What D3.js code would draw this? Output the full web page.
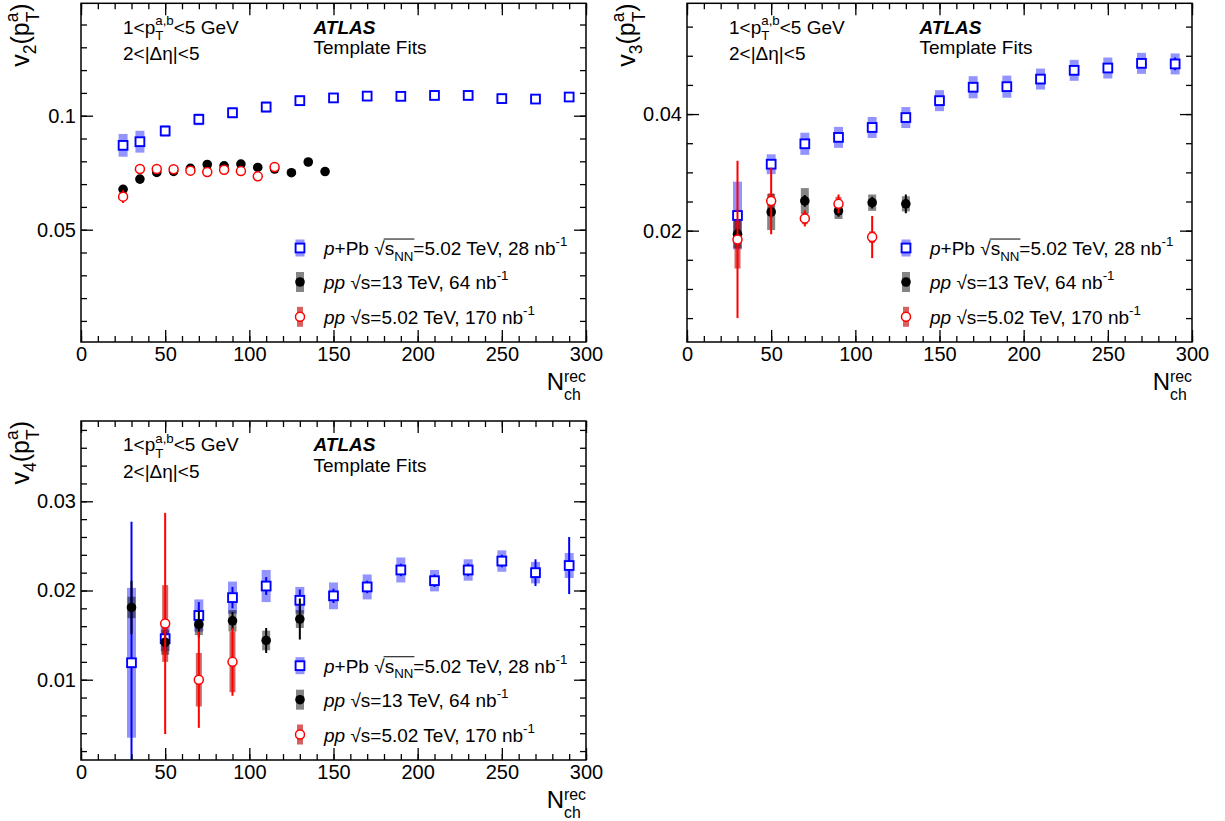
<!DOCTYPE html>
<html><head><meta charset="utf-8">
<script src="https://cdn.jsdelivr.net/npm/d3@7"></script>
<style>
body{margin:0;background:#fff}
text{font-family:"Liberation Sans",Arial,Helvetica,sans-serif;white-space:pre}
</style>
</head><body>
<svg id="c" width="1225" height="821" xmlns="http://www.w3.org/2000/svg"></svg>
<script>
// ---------------- DATA ----------------
const xTicksMajor = [0, 50, 100, 150, 200, 250, 300];
const xTickLabels = ['0', '50', '100', '150', '200', '250', '300'];

const v2Ticks = [0.05, 0.1];          const v2TickLabels = ['0.05', '0.1'];
const v3Ticks = [0.02, 0.04];         const v3TickLabels = ['0.02', '0.04'];
const v4Ticks = [0.01, 0.02, 0.03];   const v4TickLabels = ['0.01', '0.02', '0.03'];

// v2 panel
const blueX2 = [25, 35, 50, 70, 90, 110, 130, 150, 170, 190, 210, 230, 250, 270, 290];
const blueV2 = [0.0870, 0.0886, 0.0933, 0.0984, 0.1013, 0.1038, 0.1066, 0.1078, 0.1086, 0.1085, 0.1089, 0.1089, 0.1075, 0.1073, 0.1082];
const blueStat2 = [0.0006, 0.0006, 0.0005, 0.0005, 0.0005, 0.0005, 0.0005, 0.0005, 0.0005, 0.0005, 0.0005, 0.0005, 0.0005, 0.0005, 0.0005];
const blueSys2 = [0.0050, 0.0048, 0.0025, 0.0026, 0.0025, 0.0025, 0.0024, 0.0022, 0.0022, 0.0022, 0.0022, 0.0022, 0.0022, 0.0022, 0.0022];

const blackX2 = [25, 35, 45, 55, 65, 75, 85, 95, 105, 115, 125, 135, 145];
const blackV2 = [0.0677, 0.0722, 0.0751, 0.0756, 0.0769, 0.0786, 0.0780, 0.0788, 0.0773, 0.0766, 0.0750, 0.0797, 0.0755];
const blackStat2 = [0.0010, 0.0008, 0.0006, 0.0006, 0.0006, 0.0006, 0.0006, 0.0006, 0.0006, 0.0006, 0.0007, 0.0008, 0.0009];
const blackSys2 = [0.0008, 0.0008, 0.0008, 0.0008, 0.0008, 0.0008, 0.0008, 0.0008, 0.0008, 0.0008, 0.0008, 0.0008, 0.0008];

const redX2 = [25, 35, 45, 55, 65, 75, 85, 95, 105, 115];
const redV2 = [0.0645, 0.0766, 0.0766, 0.0765, 0.0759, 0.0753, 0.0763, 0.0757, 0.0734, 0.0775];
const redStat2 = [0.0028, 0.0014, 0.0008, 0.0008, 0.0008, 0.0008, 0.0008, 0.0008, 0.0009, 0.0010];
const redSys2 = [0.0010, 0.0012, 0.0008, 0.0008, 0.0008, 0.0008, 0.0008, 0.0008, 0.0008, 0.0008];

// v3 panel
const blueX3 = [30, 50, 70, 90, 110, 130, 150, 170, 190, 210, 230, 250, 270, 290];
const blueV3 = [0.0226, 0.0314, 0.0349, 0.0360, 0.0377, 0.0394, 0.0423, 0.0446, 0.0447, 0.0460, 0.0475, 0.0479, 0.0487, 0.0486];
const blueStat3 = [0.0010, 0.0008, 0.0005, 0.0005, 0.0005, 0.0005, 0.0005, 0.0005, 0.0005, 0.0005, 0.0005, 0.0005, 0.0006, 0.0011];
const blueSys3 = [0.0058, 0.0017, 0.0019, 0.0018, 0.0018, 0.0018, 0.0018, 0.0019, 0.0019, 0.0018, 0.0018, 0.0018, 0.0018, 0.0018];

const blackX3 = [30, 50, 70, 90, 110, 130];
const blackV3 = [0.0194, 0.0232, 0.0251, 0.0234, 0.0248, 0.0246];
const blackStat3 = [0.0010, 0.0010, 0.0010, 0.0010, 0.0010, 0.0016];
const blackSys3 = [0.0024, 0.0031, 0.0022, 0.0014, 0.0014, 0.0013];

const redX3 = [30, 50, 70, 90, 110];
const redV3 = [0.0185, 0.0251, 0.0221, 0.0246, 0.0189];
const redStat3 = [0.0135, 0.0057, 0.0014, 0.0016, 0.0036];
const redSys3 = [0.0050, 0.0013, 0.0010, 0.0012, 0.0010];

// v4 panel
const blueX4 = [30, 50, 70, 90, 110, 130, 150, 170, 190, 210, 230, 250, 270, 290];
const blueV4 = [0.0119, 0.0146, 0.0172, 0.0192, 0.0205, 0.0189, 0.0194, 0.0204, 0.0223, 0.0211, 0.0223, 0.0233, 0.0220, 0.0228];
const blueStat4 = [0.0158, 0.0010, 0.0015, 0.0012, 0.0010, 0.0012, 0.0008, 0.0007, 0.0007, 0.0007, 0.0007, 0.0007, 0.0015, 0.0032];
const blueSys4 = [0.0084, 0.0014, 0.0018, 0.0018, 0.0018, 0.0015, 0.0015, 0.0014, 0.0014, 0.0012, 0.0012, 0.0012, 0.0012, 0.0014];

const blackX4 = [30, 50, 70, 90, 110, 130];
const blackV4 = [0.0181, 0.0142, 0.0162, 0.0166, 0.0144, 0.0168];
const blackStat4 = [0.0030, 0.0010, 0.0015, 0.0010, 0.0014, 0.0023];
const blackSys4 = [0.0012, 0.0014, 0.0012, 0.0012, 0.0011, 0.0010];

const redX4 = [50, 70, 90];
const redV4 = [0.0163, 0.0100, 0.0120];
const redStat4 = [0.0124, 0.0054, 0.0038];
const redSys4 = [0.0043, 0.0030, 0.0034];

// ---------------- STYLE ----------------
const styles = {
  pPb:  {color: '#0000ff', sys: 'rgba(0,0,255,0.42)', sysW: 9, marker: 'square'},
  pp13: {color: '#000000', sys: 'rgba(0,0,0,0.48)',   sysW: 8, marker: 'disc'},
  pp5:  {color: '#ff0000', sys: 'rgba(190,0,0,0.62)', sysW: 6, marker: 'circle'}
};

const legendRows = [
  {kind: 'pPb',  segs: [{t: 'p', i: 1}, {t: '+Pb\u00A0'}, {t: '\u221A'}, {t: 's', ov: 1}, {sub: 'NN', ov: 1, subShift: 0.3}, {t: '=5.02 TeV, 28 nb'}, {sup: '-1'}]},
  {kind: 'pp13', segs: [{t: 'pp', i: 1}, {t: '\u00A0'}, {t: '\u221A'}, {t: 's'}, {t: '=13 TeV, 64 nb'}, {sup: '-1'}]},
  {kind: 'pp5',  segs: [{t: 'pp', i: 1}, {t: '\u00A0'}, {t: '\u221A'}, {t: 's'}, {t: '=5.02 TeV, 170 nb'}, {sup: '-1'}]}
];

const panels = [
  {frame: [81, 586, 3.3, 342], yDomain: [0.00075, 0.1493], yTicks: v2Ticks, yLabels: v2TickLabels, yMinor: 0.01, n: '2',
   series: {pPb: [blueX2, blueV2, blueStat2, blueSys2], pp13: [blackX2, blackV2, blackStat2, blackSys2], pp5: [redX2, redV2, redStat2, redSys2]}},
  {frame: [687, 1192, 3.3, 342], yDomain: [0.0009, 0.059], yTicks: v3Ticks, yLabels: v3TickLabels, yMinor: 0.005, n: '3',
   series: {pPb: [blueX3, blueV3, blueStat3, blueSys3], pp13: [blackX3, blackV3, blackStat3, blackSys3], pp5: [redX3, redV3, redStat3, redSys3]}},
  {frame: [81, 586, 421, 760], yDomain: [0.001, 0.039], yTicks: v4Ticks, yLabels: v4TickLabels, yMinor: 0.002, n: '4',
   series: {pPb: [blueX4, blueV4, blueStat4, blueSys4], pp13: [blackX4, blackV4, blackStat4, blackSys4], pp5: [redX4, redV4, redStat4, redSys4]}}
];

// ---------------- HELPERS ----------------
const svg = d3.select('#c');

// one <text> element per label; sub/superscripts are positioned tspans
function richText(parent, segs, size, opt) {
  const g = parent.append('g');
  const inner = g.append('g');
  const txt = inner.append('text').attr('font-size', size);
  let cx = 0, ovStart = null, ovEnd = null;
  segs.forEach(s => {
    const x0 = cx;
    const small = size * (s.scale || 0.7);
    if (s.t !== undefined) {
      const el = txt.append('tspan').attr('x', cx).attr('y', 0).text(s.t);
      if (s.i) el.attr('font-style', 'italic');
      if (s.b) el.attr('font-weight', 'bold');
      cx += el.node().getComputedTextLength();
    } else {
      let w = 0;
      if (s.sup) {
        const el = txt.append('tspan').attr('x', cx).attr('y', -size * (s.supShift || 0.45)).attr('font-size', small).text(s.sup);
        w = Math.max(w, el.node().getComputedTextLength());
      }
      if (s.sub) {
        const el = txt.append('tspan').attr('x', cx).attr('y', size * (s.subShift || 0.45)).attr('font-size', small).text(s.sub);
        w = Math.max(w, el.node().getComputedTextLength());
      }
      cx += w;
    }
    if (s.ov) { if (ovStart === null) ovStart = x0; ovEnd = cx; }
  });
  if (ovStart !== null) {
    inner.append('line').attr('x1', ovStart - 1).attr('x2', ovEnd + 1)
      .attr('y1', -size * 0.84).attr('y2', -size * 0.84).attr('stroke', '#000').attr('stroke-width', 1);
  }
  const shift = opt.anchor === 'end' ? -cx : (opt.anchor === 'middle' ? -cx / 2 : 0);
  inner.attr('transform', `translate(${shift},0)`);
  g.attr('transform', `translate(${opt.x},${opt.y}) rotate(${opt.rotate || 0})`);
  return cx;
}

function drawMarker(g, kind, cx, cy) {
  const st = styles[kind];
  if (st.marker === 'square') {
    g.append('rect').attr('x', cx - 4.4).attr('y', cy - 4.4).attr('width', 8.8).attr('height', 8.8)
      .attr('fill', '#fff').attr('stroke', st.color).attr('stroke-width', 1.9);
  } else if (st.marker === 'disc') {
    g.append('circle').attr('cx', cx).attr('cy', cy).attr('r', 4.8).attr('fill', st.color);
  } else {
    g.append('circle').attr('cx', cx).attr('cy', cy).attr('r', 4.5)
      .attr('fill', '#fff').attr('stroke', st.color).attr('stroke-width', 1.5);
  }
}

// ---------------- DRAW ----------------
panels.forEach((p, pi) => {
  const [x0, x1, y0, y1] = p.frame;
  const x = d3.scaleLinear().domain([0, 300]).range([x0, x1]);
  const y = d3.scaleLinear().domain(p.yDomain).range([y1, y0]);
  const g = svg.append('g');

  const cid = 'clip' + pi;
  svg.append('defs').append('clipPath').attr('id', cid)
    .append('rect').attr('x', x0).attr('y', y0).attr('width', x1 - x0).attr('height', y1 - y0);

  const data = g.append('g').attr('clip-path', `url(#${cid})`);
  const order = ['pPb', 'pp13', 'pp5'];
  const rows = k => {
    const [X, V, S, Y] = p.series[k];
    return X.map((xv, i) => ({x: xv, v: V[i], stat: S[i], sys: Y[i]}));
  };
  order.forEach(k => {
    const st = styles[k];
    data.append('g').selectAll('rect').data(rows(k)).join('rect')
      .attr('x', d => x(d.x) - st.sysW / 2).attr('width', st.sysW)
      .attr('y', d => y(d.v + d.sys)).attr('height', d => y(d.v - d.sys) - y(d.v + d.sys))
      .attr('fill', st.sys);
  });
  order.forEach(k => {
    const st = styles[k];
    const sg = data.append('g');
    sg.selectAll('line').data(rows(k)).join('line')
      .attr('x1', d => x(d.x)).attr('x2', d => x(d.x))
      .attr('y1', d => y(d.v + d.stat)).attr('y2', d => y(d.v - d.stat))
      .attr('stroke', st.color).attr('stroke-width', 2);
    rows(k).forEach(d => drawMarker(sg, k, x(d.x), y(d.v)));
  });

  // axes
  const MAJ = 12, MIN = 6;
  const ax = g.append('g');
  ax.append('g').attr('transform', `translate(0,${y1})`)
    .call(d3.axisBottom(x).tickValues(xTicksMajor).tickFormat((d, i) => xTickLabels[i]).tickSize(-MAJ).tickPadding(5));
  ax.append('g').attr('transform', `translate(${x0},0)`)
    .call(d3.axisLeft(y).tickValues(p.yTicks).tickFormat((d, i) => p.yLabels[i]).tickSize(-MAJ).tickPadding(5));
  ax.append('g').attr('transform', `translate(0,${y0})`)
    .call(d3.axisTop(x).tickValues(xTicksMajor).tickFormat('').tickSize(-MAJ));
  ax.append('g').attr('transform', `translate(${x1},0)`)
    .call(d3.axisRight(y).tickValues(p.yTicks).tickFormat('').tickSize(-MAJ));
  const xMinor = d3.range(0, 301, 10);
  const yMinor = d3.range(Math.ceil(p.yDomain[0] / p.yMinor), Math.floor(p.yDomain[1] / p.yMinor) + 1).map(k => +(k * p.yMinor).toFixed(4));
  ax.append('g').attr('transform', `translate(0,${y1})`).call(d3.axisBottom(x).tickValues(xMinor).tickFormat('').tickSize(-MIN));
  ax.append('g').attr('transform', `translate(0,${y0})`).call(d3.axisTop(x).tickValues(xMinor).tickFormat('').tickSize(-MIN));
  ax.append('g').attr('transform', `translate(${x0},0)`).call(d3.axisLeft(y).tickValues(yMinor).tickFormat('').tickSize(-MIN));
  ax.append('g').attr('transform', `translate(${x1},0)`).call(d3.axisRight(y).tickValues(yMinor).tickFormat('').tickSize(-MIN));
  ax.selectAll('.domain').remove();
  ax.selectAll('text').filter(function () { return !this.textContent; }).remove();
  ax.selectAll('line').attr('stroke', '#000').attr('stroke-width', 1.3);
  ax.selectAll('g').attr('font-size', null).attr('font-family', null);
  ax.selectAll('text').attr('font-size', 20).attr('fill', '#000');

  g.append('rect').attr('x', x0).attr('y', y0).attr('width', x1 - x0).attr('height', y1 - y0)
    .attr('fill', 'none').attr('stroke', '#000').attr('stroke-width', 1.5);

  // axis titles
  richText(g, [{t: 'v'}, {sub: p.n, subShift: 0.3}, {t: '(p'}, {sup: 'a', sub: 'T', supShift: 0.42, subShift: 0.42}, {t: ')'}], 25,
    {x: x0 - 52.5, y: y0, anchor: 'end', rotate: -90});
  richText(g, [{t: 'N'}, {sup: 'rec', sub: 'ch', supShift: 0.33, subShift: 0.4, scale: 0.66}], 24, {x: x1, y: y1 + 48, anchor: 'end'});

  // annotations
  richText(g, [{t: '1<p'}, {sup: 'a,b', sub: 'T', supShift: 0.45, subShift: 0.35}, {t: '<5 GeV'}], 19, {x: x0 + 42, y: y0 + 30.3});
  richText(g, [{t: '2<|\u0394\u03B7|<5'}], 19, {x: x0 + 42, y: y0 + 57});
  richText(g, [{t: 'ATLAS', i: 1, b: 1}], 19, {x: x0 + 232.5, y: y0 + 30.3});
  richText(g, [{t: 'Template Fits'}], 19, {x: x0 + 232.5, y: y0 + 50.5});

  // legend
  const rowY = [244.7, 278.7, 313.5];
  legendRows.forEach((r, ri) => {
    const st = styles[r.kind];
    const cy = y0 + rowY[ri];
    const mx = x0 + 219;
    const lg = g.append('g');
    const bh = r.kind === 'pPb' ? 17 : 20;
    lg.append('rect').attr('x', mx - st.sysW / 2).attr('y', cy - bh / 2).attr('width', st.sysW).attr('height', bh).attr('fill', st.sys);
    drawMarker(lg, r.kind, mx, cy);
    richText(lg, r.segs, 19, {x: x0 + 243, y: cy + 7});
  });
});
</script>
</body></html>
